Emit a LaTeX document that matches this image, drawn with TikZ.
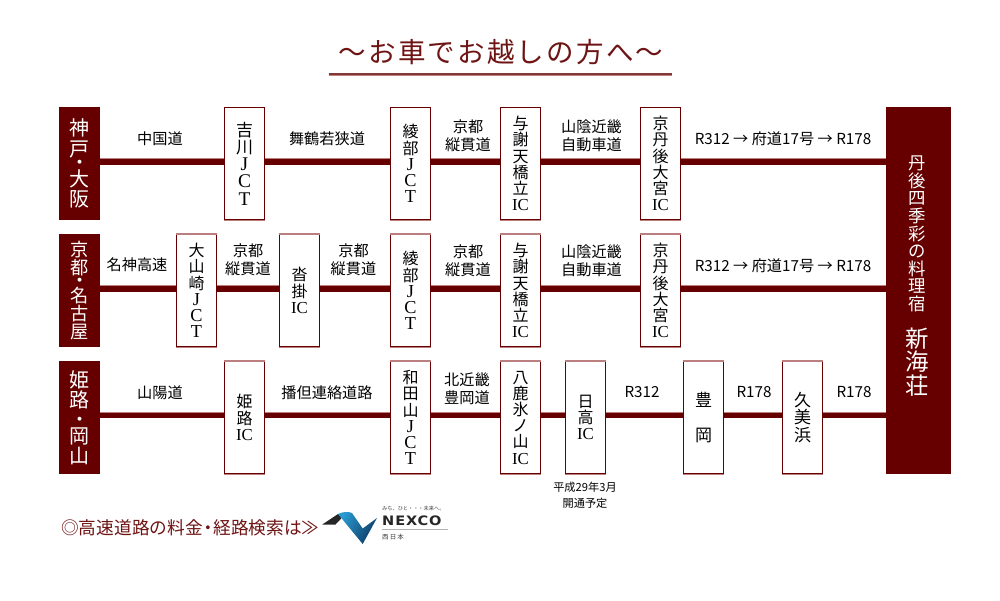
\documentclass[tikz,border=0pt]{standalone}
\usepackage{fontspec}
\setmainfont{Noto Sans CJK JP}
\newfontfamily\ltn[Scale=1.05]{Liberation Serif}
\newfontfamily\ltj[Scale=1.14]{Liberation Serif}
\newfontfamily\titlefont[LetterSpace=8]{Noto Sans CJK JP}
\newfontfamily\nexfont[LetterSpace=6]{DejaVu Sans}
\newcommand{\fsz}[2]{\fontsize{#1}{#2}\selectfont}
\newcommand{\roadseg}[3]{\draw[road] (#1.east |- #3) -- (#2.west |- #3);}
\newcommand{\JCT}{{\ltj J}\\{\ltj C}\\{\ltj T}}
\newcommand{\IC}{{\ltn IC}}
\newcommand{\sdot}{\raisebox{3pt}{\fsz{14}{14}\bfseries ・}}
\lineskiplimit=-100pt
\definecolor{dark}{HTML}{660000}
\definecolor{pale}{HTML}{BC7F7F}
\definecolor{txtred}{HTML}{6E1414}
\definecolor{nxblue}{HTML}{2A9AD0}
\definecolor{nxnavy}{HTML}{0D3A66}
\tikzset{
  stopbox/.style={draw=dark,line width=1.2pt,fill=white,minimum width=40pt,minimum height=112pt,inner sep=0pt,align=center,text=black,font=\fsz{16}{16.2}},
  startbox/.style={fill=dark,minimum width=41pt,minimum height=113pt,inner sep=0pt,align=center,text=white},
  road/.style={line width=5.4pt,draw=dark,preaction={draw=pale,line width=5.4pt,transform canvas={yshift=1pt}}},
  lab/.style={align=center,text=black,inner sep=0pt,font=\fsz{15.2}{18}},
  edge/.style={draw=pale,line width=1.2pt},
}
\begin{document}
\begin{tikzpicture}[x=1pt,y=-1pt]
\useasboundingbox (0,0) rectangle (1000,600);
\fill[white] (0,0) rectangle (1000,600);
\coordinate (r1) at (0,161.8);
\coordinate (r2) at (0,289);
\coordinate (r3) at (0,415.5);
% title
\node[text=txtred,inner sep=0pt,font=\titlefont\fsz{27.5}{27}] (title) at (501,52) {〜お車でお越しの方へ〜};
\coordinate (tl) at (329,73.5);
\coordinate (tr) at (672,73.5);
\draw[draw=pale,line width=1.6pt] ([yshift=-1.6pt]tl) -- ([yshift=-1.6pt]tr);
\draw[draw=txtred!85!white,line width=2pt] (tl) -- (tr);
% start boxes
\node[startbox,font=\fsz{20}{20.5}] (s1) at (79.5,163.5) {神\\戸\\[-6pt]\sdot\\[-5pt]大\\阪};
\node[startbox,font=\fsz{18.2}{18.3}] (s2) at (79.5,290.5) {京\\都\\[-4.5pt]\sdot\\[-4.5pt]名\\古\\屋};
\node[startbox,font=\fsz{20}{20.3}] (s3) at (79.5,417.5) {姫\\路\\\sdot\\[-5pt]岡\\山};
\node[fill=dark,minimum width=65pt,minimum height=367pt,inner sep=0pt] (dest) at (918.5,290.5) {};
\node[text=white,align=center,inner sep=0pt,font=\fsz{17.4}{17.6}] (dest1) at (917,234) {丹\\後\\四\\季\\彩\\の\\料\\理\\宿};
\node[text=white,align=center,inner sep=0pt,font=\fsz{23.4}{23.5}] (dest2) at (917,362) {新\\海\\荘};
% row 1
\node[stopbox,font=\fsz{17}{17.3}] (a1) at (244.5,163.5) {吉\\川\\\JCT};
\node[stopbox] (a2) at (410.5,163.5) {綾\\部\\\JCT};
\node[stopbox] (a3) at (520.5,163.5) {与\\謝\\天\\橋\\立\\\IC};
\node[stopbox] (a4) at (660.5,163.5) {京\\丹\\後\\大\\宮\\\IC};
% row 2
\node[stopbox] (b1) at (196.5,290.5) {大\\山\\崎\\\JCT};
\node[stopbox] (b2) at (299.5,290.5) {沓\\掛\\\IC};
\node[stopbox] (b3) at (410.5,290.5) {綾\\部\\\JCT};
\node[stopbox] (b4) at (520.5,290.5) {与\\謝\\天\\橋\\立\\\IC};
\node[stopbox] (b5) at (660.5,290.5) {京\\丹\\後\\大\\宮\\\IC};
% row 3
\node[stopbox] (c1) at (244.5,417.5) {姫\\路\\\IC};
\node[stopbox] (c2) at (410.5,417.5) {和\\田\\山\\\JCT};
\node[stopbox] (c3) at (520.5,417.5) {八\\鹿\\氷\\ノ\\山\\\IC};
\node[stopbox] (c4) at (585.5,417.5) {日\\高\\\IC};
\node[stopbox,font=\fsz{17}{35}] (c5) at (703.5,417.5) {豊\\岡};
\node[stopbox,font=\fsz{17}{17.3}] (c6) at (802.5,417.5) {久\\美\\浜};
% pale edges of the boxes
\foreach \n in {a1,a2,a3,a4,b1,b2,b3,b4,b5,c1,c2,c3,c4,c5,c6}
  \draw[edge] (\n.south west) -- (\n.south east);
\foreach \n in {b1,b2,b3,b4,b5,c1,c2,c3,c4,c5,c6}
  \draw[edge] (\n.north west) -- (\n.north east);
% roads
\roadseg{s1}{a1}{r1}\roadseg{a1}{a2}{r1}\roadseg{a2}{a3}{r1}\roadseg{a3}{a4}{r1}\roadseg{a4}{dest}{r1}
\roadseg{s2}{b1}{r2}\roadseg{b1}{b2}{r2}\roadseg{b2}{b3}{r2}\roadseg{b3}{b4}{r2}\roadseg{b4}{b5}{r2}\roadseg{b5}{dest}{r2}
\roadseg{s3}{c1}{r3}\roadseg{c1}{c2}{r3}\roadseg{c2}{c3}{r3}\roadseg{c3}{c4}{r3}\roadseg{c4}{c5}{r3}\roadseg{c5}{c6}{r3}\roadseg{c6}{dest}{r3}
% labels row 1
\node[lab] (l1) at (160,139) {中国道};
\node[lab] (l2) at (327,139) {舞鶴若狭道};
\node[lab] (l3) at (468,135.5) {京都\\縦貫道};
\node[lab] (l4) at (591.5,135.5) {山陰近畿\\自動車道};
\node[lab] (l5) at (783,139) {R312 → 府道17号 → R178};
% labels row 2
\node[lab] (m1) at (137,265) {名神高速};
\node[lab] (m2) at (248,260) {京都\\縦貫道};
\node[lab] (m3) at (353.5,260) {京都\\縦貫道};
\node[lab] (m4) at (468,261) {京都\\縦貫道};
\node[lab] (m5) at (591.5,261) {山陰近畿\\自動車道};
\node[lab] (m6) at (783,265.5) {R312 → 府道17号 → R178};
% labels row 3
\node[lab] (n1) at (160,393) {山陽道};
\node[lab] (n2) at (327,392.5) {播但連絡道路};
\node[lab] (n3) at (467,388.5) {北近畿\\豊岡道};
\node[lab] (n4) at (642,392.5) {R312};
\node[lab] (n5) at (754,392.5) {R178};
\node[lab] (n6) at (854,392.5) {R178};
\node[lab,font=\fsz{11.2}{16}] (note) at (585,495) {平成29年3月\\開通予定};
% bottom link
\node[anchor=west,text=txtred,inner sep=0pt,font=\fsz{17.7}{18}] (link) at (61,527.5) {◎高速道路の料金\kern-3.5pt・\kern-3.5pt 経路検索は\kern-1pt≫};
% NEXCO logo
\fill[black!85] (322.3,524.5) -- (338,514) -- (345,514.5) -- (335.5,524.5) -- cycle;
\shade[left color=nxblue,right color=nxnavy,shading angle=60] (338,514) .. controls (342,512) and (348,511) .. (352,513) -- (362.7,528.5) -- (377,518) -- (362.7,544) -- cycle;
\node[anchor=west,inner sep=0pt,text=black!75,font=\fsz{5.2}{6}] (nx1) at (382,508.5) {みち、ひと・・・未来へ。};
\node[anchor=west,inner sep=0pt,text=black!85,xscale=1.12,transform shape,font=\nexfont\bfseries\fsz{13}{14}] (nx2) at (382,521) {NEXCO};
\coordinate (nl) at (382,529.5);
\coordinate (nr) at (448,529.5);
\draw[draw=black!30,line width=1pt] (nl) -- (nr);
\node[anchor=west,inner sep=0pt,text=black!75,font=\fsz{6.5}{7}] (nx3) at (382,537) {西\,日\,本};
\end{tikzpicture}
\end{document}
